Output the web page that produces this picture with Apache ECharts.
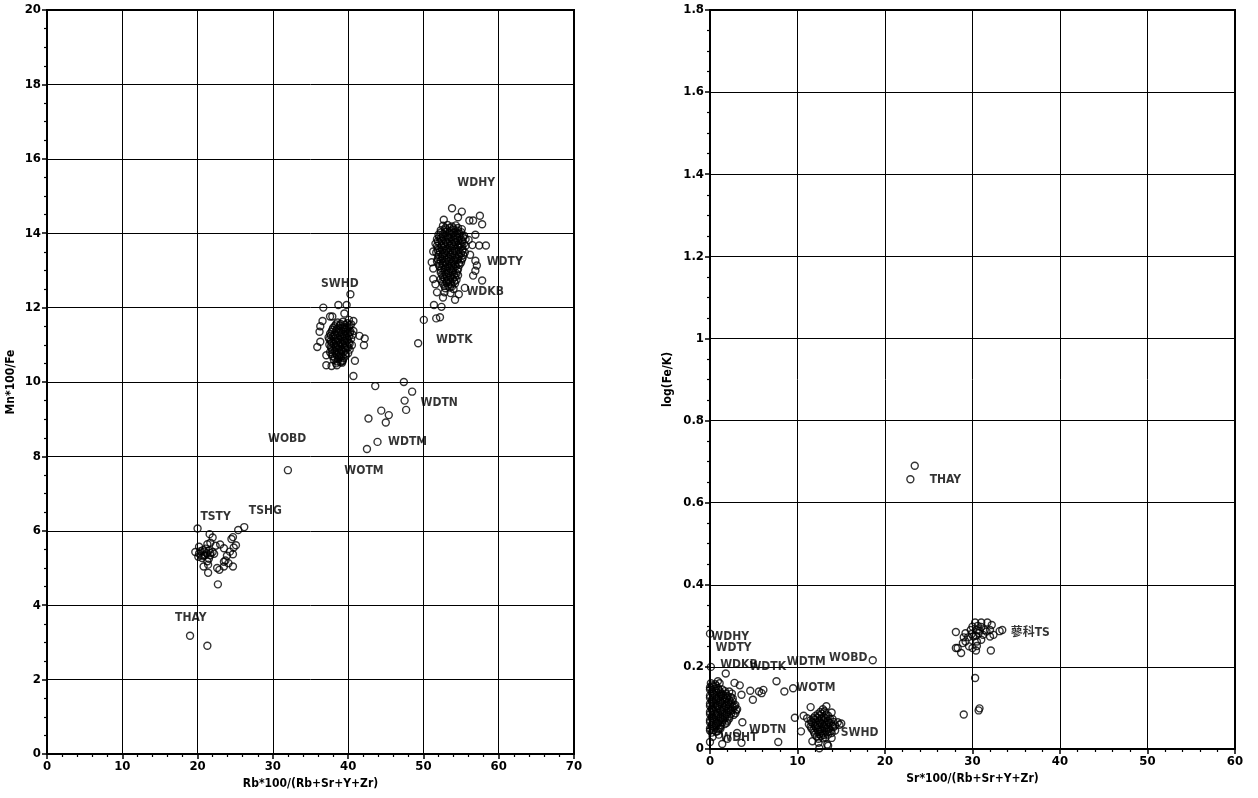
<!DOCTYPE html>
<html>
<head>
<meta charset="utf-8">
<script src="https://cdn.jsdelivr.net/npm/echarts@6/dist/echarts.min.js"></script>
<style>
html,body{margin:0;padding:0;background:#fff;}
#c{width:1258px;height:798px;}
</style>
</head>
<body>
<div id="c"></div>
<script>
// ---------- LEFT CHART: Rb*100/(Rb+Sr+Y+Zr) vs Mn*100/Fe ----------
const leftXTitle = 'Rb*100/(Rb+Sr+Y+Zr)';
const leftYTitle = 'Mn*100/Fe';
const L_THAY = [[19.0,3.18],[21.3,2.91]];
const L_TS = [[20.0,6.06],[26.2,6.10],[25.4,6.02],[24.7,5.83],[24.5,5.78],[21.6,5.91],[22.0,5.82],[21.7,5.68],
 [21.3,5.64],[23.0,5.63],[22.4,5.60],[23.5,5.53],[25.1,5.61],[24.8,5.55],[24.3,5.44],[24.7,5.37],[23.9,5.33],
 [23.7,5.20],[23.5,5.17],[24.1,5.13],[24.7,5.04],[23.5,5.04],[22.6,5.00],[22.9,4.95],[22.7,4.56],[21.4,4.87],
 [21.4,5.09],[20.8,5.04],[19.7,5.43],[20.2,5.57],[20.7,5.48],[20.5,5.34],[20.1,5.30],[21.0,5.34],[21.7,5.40],
 [22.0,5.43],[21.5,5.25],[21.3,5.18],[20.9,5.44],[20.2,5.39],[20.6,5.27],[21.1,5.52],[21.7,5.34],[20.4,5.45],
 [21.2,5.40],[20.8,5.33],[21.5,5.47],[22.2,5.38]];
const L_WOBD = [[32.0,7.63]];
const L_WDMID = [[42.5,8.20],[43.9,8.39],[42.7,9.02],[45.0,8.91],[44.4,9.23],[45.4,9.11],[47.5,9.50],[47.7,9.25],
 [43.6,9.89],[47.4,10.00],[48.5,9.74],[49.3,11.04],[50.05,11.67],[51.4,12.07],[52.4,12.02],[51.7,11.71],[52.2,11.74]];
const L_SWHD = [[40.3,12.36],[36.7,12.00],[38.7,12.07],[39.8,12.07],[37.6,11.76],[37.9,11.76],[39.5,11.84],
 [36.6,11.64],[36.3,11.50],[36.2,11.35],[36.3,11.08],[35.9,10.94],[37.1,10.72],[37.1,10.45],[37.8,10.43],
 [38.5,10.45],[39.2,10.52],[40.7,10.16],[40.9,10.57],[42.2,11.17],[42.1,10.99],[41.5,11.24],[40.7,11.37],
 [40.7,11.64],[40.1,11.67],
 [38.6,11.60],[39.3,11.62],[39.9,11.58],[40.4,11.55],
 [38.2,11.50],[38.9,11.52],[39.5,11.48],[40.1,11.46],
 [37.9,11.40],[38.5,11.42],[39.1,11.38],[39.7,11.41],[40.3,11.36],
 [37.6,11.30],[38.2,11.28],[38.8,11.32],[39.4,11.29],[40.0,11.31],[40.6,11.27],
 [37.4,11.20],[38.0,11.22],[38.6,11.18],[39.2,11.21],[39.8,11.19],[40.4,11.16],
 [37.7,11.10],[38.3,11.12],[38.9,11.08],[39.5,11.11],[40.1,11.07],
 [37.5,11.00],[38.1,11.02],[38.7,10.98],[39.3,11.01],[39.9,10.97],[40.5,10.99],
 [37.8,10.90],[38.4,10.92],[39.0,10.88],[39.6,10.91],[40.2,10.87],
 [37.6,10.80],[38.2,10.82],[38.8,10.78],[39.4,10.81],[40.0,10.77],
 [37.9,10.70],[38.5,10.72],[39.1,10.68],[39.7,10.71],
 [38.1,10.60],[38.7,10.62],[39.3,10.58],
 [38.4,10.50],[39.0,10.53],
 [38.4,11.55],[39.0,11.56],[39.6,11.54],[40.2,11.53],
 [38.0,11.45],[38.7,11.46],[39.3,11.44],[39.9,11.45],
 [37.8,11.35],[38.4,11.36],[39.0,11.34],[39.6,11.35],[40.2,11.33],
 [37.7,11.25],[38.3,11.26],[38.9,11.24],[39.5,11.25],[40.1,11.23],
 [37.5,11.15],[38.1,11.16],[38.7,11.14],[39.3,11.15],[39.9,11.13],
 [37.8,11.05],[38.4,11.06],[39.0,11.04],[39.6,11.05],[40.2,11.03],
 [37.7,10.95],[38.3,10.96],[38.9,10.94],[39.5,10.95],[40.0,10.93],
 [37.9,10.85],[38.5,10.86],[39.1,10.84],[39.7,10.85],
 [37.8,10.75],[38.4,10.76],[39.0,10.74],[39.6,10.75],
 [38.2,10.65],[38.8,10.66],[39.4,10.64],
 [38.6,10.55],[39.2,10.56]];
const L_WDHY = [[53.8,14.67],[55.1,14.58],[57.5,14.47],[57.8,14.24],[56.6,14.34],[56.1,14.34],[52.7,14.36],
 [54.6,14.43],[56.9,13.96],[58.3,13.67],[57.4,13.67],[56.5,13.68],[51.3,13.51],[51.1,13.22],[51.3,13.05],
 [56.9,13.26],[57.1,13.13],[56.9,12.99],[56.6,12.86],[57.8,12.73],[55.5,12.53],[51.3,12.77],[51.6,12.63],
 [51.8,12.41],[52.8,12.41],[53.6,12.39],[54.2,12.21],[54.7,12.36],[52.6,12.27],[56.2,13.42],[56.0,13.82],
 [52.6,14.20],[53.2,14.22],[53.8,14.18],[54.3,14.21],
 [52.3,14.08],[52.9,14.10],[53.5,14.06],[54.0,14.09],[54.6,14.07],[55.1,14.11],
 [52.0,13.96],[52.6,13.98],[53.2,13.94],[53.7,13.97],[54.3,13.95],[54.8,13.99],[55.4,13.93],
 [51.8,13.84],[52.3,13.86],[52.9,13.82],[53.4,13.85],[54.0,13.83],[54.5,13.87],[55.1,13.81],[55.6,13.84],
 [51.6,13.72],[52.1,13.74],[52.7,13.70],[53.2,13.73],[53.8,13.71],[54.3,13.75],[54.9,13.69],[55.4,13.72],
 [51.9,13.60],[52.4,13.62],[53.0,13.58],[53.5,13.61],[54.1,13.59],[54.6,13.63],[55.2,13.57],
 [51.7,13.48],[52.2,13.50],[52.8,13.46],[53.3,13.49],[53.9,13.47],[54.4,13.51],[55.0,13.45],[55.5,13.48],
 [52.0,13.36],[52.5,13.38],[53.1,13.34],[53.6,13.37],[54.2,13.35],[54.7,13.39],[55.2,13.33],
 [51.8,13.24],[52.3,13.26],[52.9,13.22],[53.4,13.25],[54.0,13.23],[54.5,13.27],[55.0,13.21],
 [52.1,13.12],[52.6,13.14],[53.2,13.10],[53.7,13.13],[54.3,13.11],[54.8,13.15],
 [52.3,13.00],[52.8,13.02],[53.4,12.98],[53.9,13.01],[54.5,12.99],
 [52.5,12.88],[53.0,12.90],[53.6,12.86],[54.1,12.89],[54.6,12.87],
 [52.3,12.76],[52.8,12.78],[53.3,12.74],[53.9,12.77],[54.4,12.75],
 [52.6,12.64],[53.1,12.66],[53.7,12.62],[54.2,12.65],
 [52.9,12.52],[53.5,12.54],[54.0,12.50],
 [52.9,14.14],[53.5,14.15],[54.0,14.13],[54.6,14.14],
 [52.3,14.02],[52.9,14.03],[53.4,14.01],[54.0,14.02],[54.5,14.00],[55.0,14.03],
 [52.1,13.90],[52.6,13.91],[53.2,13.89],[53.7,13.90],[54.2,13.88],[54.8,13.91],[55.3,13.89],
 [51.9,13.78],[52.4,13.79],[53.0,13.77],[53.5,13.78],[54.1,13.76],[54.6,13.79],[55.2,13.77],
 [51.8,13.66],[52.4,13.67],[52.9,13.65],[53.5,13.66],[54.0,13.64],[54.6,13.67],[55.1,13.65],[55.6,13.66],
 [51.9,13.54],[52.5,13.55],[53.0,13.53],[53.6,13.54],[54.1,13.52],[54.7,13.55],[55.2,13.53],
 [52.0,13.42],[52.6,13.43],[53.1,13.41],[53.6,13.42],[54.2,13.40],[54.7,13.43],[55.3,13.41],
 [51.9,13.30],[52.5,13.31],[53.0,13.29],[53.6,13.30],[54.1,13.28],[54.6,13.31],[55.1,13.29],
 [52.1,13.18],[52.6,13.19],[53.1,13.17],[53.7,13.18],[54.2,13.16],[54.7,13.19],
 [52.4,13.06],[52.9,13.07],[53.5,13.05],[54.0,13.06],[54.6,13.04],
 [52.3,12.94],[52.8,12.95],[53.3,12.93],[53.9,12.94],[54.4,12.92],
 [52.6,12.82],[53.1,12.83],[53.6,12.81],[54.2,12.82],
 [52.5,12.70],[53.1,12.71],[53.6,12.69],[54.1,12.70],
 [52.8,12.58],[53.3,12.59],[53.8,12.57]];
const L_LABELS = [[57.0,15.35,'WDHY'],[60.8,13.23,'WDTY'],[58.2,12.41,'WDKB'],[54.1,11.13,'WDTK'],
 [38.9,12.65,'SWHD'],[52.1,9.45,'WDTN'],[47.9,8.40,'WDTM'],[42.1,7.61,'WOTM'],[31.9,8.48,'WOBD'],
 [29.0,6.53,'TSHG'],[22.4,6.38,'TSTY'],[19.1,3.66,'THAY']];

// ---------- RIGHT CHART: Sr*100/(Rb+Sr+Y+Zr) vs log(Fe/K) ----------
const rightXTitle = 'Sr*100/(Rb+Sr+Y+Zr)';
const rightYTitle = 'log(Fe/K)';
const R_THAY = [[23.4,0.690],[22.9,0.657]];
const R_TS = [[28.1,0.285],[28.3,0.246],[28.1,0.246],[28.7,0.234],[29.0,0.272],[29.2,0.282],[28.9,0.258],
 [29.6,0.250],[29.2,0.262],[30.0,0.246],[30.4,0.240],[30.5,0.251],[30.3,0.308],[31.0,0.308],[31.7,0.308],
 [32.2,0.302],[32.0,0.290],[31.6,0.286],[32.0,0.274],[32.4,0.278],[33.1,0.287],[33.4,0.290],[32.1,0.240],
 [30.0,0.298],[30.5,0.290],[30.7,0.282],[29.8,0.290],[30.1,0.274],[31.0,0.266],[30.5,0.262],[31.2,0.278],
 [31.4,0.290],[29.5,0.272],[31.0,0.297],[30.4,0.276],[30.8,0.288],[29.9,0.280],[30.6,0.300],
 [30.3,0.173],[29.0,0.084],[30.7,0.094],[30.8,0.099]];
const R_WOBD = [[18.6,0.216]];
const R_WD = [[0.0,0.281],[0.1,0.200],[1.8,0.184],[0.9,0.165],[1.1,0.160],[2.8,0.161],[3.4,0.155],[3.6,0.132],
 [4.6,0.142],[4.9,0.120],[5.6,0.140],[5.9,0.136],[6.1,0.144],[7.6,0.165],[8.5,0.140],[9.5,0.148],[9.7,0.076],
 [3.7,0.065],[3.1,0.039],[3.6,0.015],[1.4,0.012],[7.8,0.017],[0.0,0.017],[2.5,0.135],[2.2,0.140],[1.3,0.130],
 [0.3,0.030],[1.0,0.035],[2.0,0.025],[1.2,0.050],
 [0.1,0.160],[0.6,0.158],
 [0.0,0.150],[0.4,0.152],[0.9,0.148],
 [0.2,0.140],[0.7,0.142],[1.2,0.138],[1.7,0.141],
 [0.0,0.130],[0.5,0.132],[1.0,0.128],[1.5,0.131],[2.0,0.129],
 [0.2,0.120],[0.7,0.122],[1.2,0.118],[1.7,0.121],[2.2,0.119],[2.6,0.123],
 [0.0,0.110],[0.4,0.112],[0.9,0.108],[1.4,0.111],[1.9,0.109],[2.4,0.113],[2.9,0.107],
 [0.2,0.100],[0.6,0.102],[1.1,0.098],[1.6,0.101],[2.1,0.099],[2.6,0.103],[3.1,0.097],
 [0.0,0.090],[0.4,0.092],[0.9,0.088],[1.4,0.091],[1.9,0.089],[2.4,0.093],[2.9,0.087],
 [0.2,0.080],[0.7,0.082],[1.2,0.078],[1.7,0.081],[2.2,0.079],[2.7,0.083],
 [0.0,0.070],[0.5,0.072],[1.0,0.068],[1.5,0.071],[2.0,0.069],
 [0.2,0.060],[0.7,0.062],[1.2,0.058],[1.7,0.061],
 [0.0,0.050],[0.5,0.052],[1.0,0.048],
 [0.2,0.040],[0.7,0.042],
 [0.2,0.155],[0.7,0.154],
 [0.0,0.145],[0.5,0.146],[1.0,0.144],[1.4,0.145],
 [0.3,0.135],[0.8,0.136],[1.3,0.134],[1.8,0.135],
 [0.0,0.125],[0.5,0.126],[1.0,0.124],[1.5,0.125],[1.9,0.124],[2.4,0.126],
 [0.2,0.115],[0.7,0.116],[1.2,0.114],[1.7,0.115],[2.1,0.114],[2.6,0.116],
 [0.0,0.105],[0.4,0.106],[0.9,0.104],[1.4,0.105],[1.8,0.104],[2.3,0.106],[2.8,0.104],
 [0.2,0.095],[0.7,0.096],[1.2,0.094],[1.6,0.095],[2.1,0.094],[2.6,0.096],[3.0,0.094],
 [0.0,0.085],[0.5,0.086],[0.9,0.084],[1.4,0.085],[1.9,0.084],[2.4,0.086],
 [0.2,0.075],[0.7,0.076],[1.2,0.074],[1.7,0.075],[2.2,0.074],
 [0.0,0.065],[0.4,0.066],[0.9,0.064],[1.4,0.065],[1.9,0.064],
 [0.2,0.055],[0.7,0.056],[1.2,0.054],
 [0.0,0.045],[0.4,0.046],[0.9,0.044]];
const R_SWHD = [[11.5,0.102],[13.3,0.104],[10.7,0.081],[10.4,0.043],[11.7,0.019],[12.4,0.015],[13.4,0.011],
 [13.9,0.027],[14.3,0.045],[14.8,0.059],[15.0,0.062],[14.6,0.065],[13.9,0.089],[13.5,0.008],[12.5,0.002],
 [11.1,0.075],[12.9,0.097],
 [12.6,0.090],[13.1,0.092],
 [12.0,0.080],[12.5,0.082],[13.0,0.078],[13.5,0.081],
 [11.5,0.070],[12.0,0.072],[12.5,0.068],[13.0,0.071],[13.5,0.069],[14.0,0.073],
 [11.3,0.060],[11.8,0.062],[12.3,0.058],[12.8,0.061],[13.3,0.059],[13.8,0.063],[14.3,0.057],
 [11.6,0.050],[12.1,0.052],[12.6,0.048],[13.1,0.051],[13.6,0.049],[14.1,0.053],
 [11.9,0.040],[12.4,0.042],[12.9,0.038],[13.4,0.041],[13.9,0.039],
 [12.2,0.030],[12.7,0.032],[13.2,0.028],
 [12.3,0.085],[12.8,0.086],[13.3,0.084],
 [11.8,0.075],[12.3,0.076],[12.7,0.074],[13.2,0.075],[13.7,0.074],
 [11.6,0.065],[12.1,0.066],[12.6,0.064],[13.1,0.065],[13.6,0.064],[14.1,0.066],
 [11.5,0.055],[12.0,0.056],[12.5,0.054],[13.0,0.055],[13.5,0.054],[14.0,0.056],
 [11.8,0.045],[12.3,0.046],[12.8,0.044],[13.3,0.045],[13.8,0.044],
 [12.0,0.035],[12.5,0.036],[13.0,0.034],[13.5,0.035],
 [12.4,0.025],[12.9,0.026]];
const R_LABELS = [[26.9,0.656,'THAY'],[36.6,0.284,'蓼科TS'],[2.3,0.272,'WDHY'],[2.7,0.246,'WDTY'],
 [3.3,0.205,'WDKB'],[6.6,0.201,'WDTK'],[11.0,0.211,'WDTM'],[15.8,0.223,'WOBD'],[12.1,0.148,'WOTM'],
 [6.6,0.047,'WDTN'],[3.3,0.026,'WDHT'],[17.1,0.040,'SWHD']];

const FONT = '"DejaVu Sans","Noto Sans CJK JP",sans-serif';
const WEIGHT = 'bold condensed';

function pts(data, xi, yi){
  return {type:'scatter', xAxisIndex:xi, yAxisIndex:yi, data:data, symbol:'circle', symbolSize:7,
    itemStyle:{color:'rgba(0,0,0,0)', borderColor:'#000', borderWidth:1.4}, silent:true, large:false};
}
function labels(arr, xi, yi){
  return {type:'scatter', xAxisIndex:xi, yAxisIndex:yi, symbolSize:0, silent:true,
    data: arr.map(a => ({value:[a[0],a[1]], name:a[2]})),
    label:{show:true, position:'inside', formatter:p=>p.name, color:'#000', fontFamily:FONT,
      fontWeight:WEIGHT, fontSize:12}};
}
function xAxis(gi, max, name){
  return {type:'value', gridIndex:gi, min:0, max:max, interval:10, name:name, nameLocation:'middle', nameGap:22,
    nameTextStyle:{color:'#000', fontFamily:FONT, fontWeight:WEIGHT, fontSize:12},
    axisLine:{show:true, onZero:false, lineStyle:{color:'#000', width:2}},
    axisTick:{show:true, length:5, lineStyle:{color:'#000', width:1.5}},
    minorTick:{show:true, splitNumber:5, length:3, lineStyle:{color:'#000', width:1.2}},
    axisLabel:{color:'#000', fontFamily:FONT, fontWeight:WEIGHT, fontSize:13, margin:6},
    splitLine:{show:true, lineStyle:{color:'#000', width:1}}};
}
function yAxis(gi, max, interval, minorSplit, name, gap){
  return {type:'value', gridIndex:gi, min:0, max:max, interval:interval, name:name, nameLocation:'middle', nameGap:gap,
    nameTextStyle:{color:'#000', fontFamily:FONT, fontWeight:WEIGHT, fontSize:12},
    axisLine:{show:true, onZero:false, lineStyle:{color:'#000', width:2}},
    axisTick:{show:true, length:5, lineStyle:{color:'#000', width:1.5}},
    minorTick:{show:true, splitNumber:minorSplit, length:3, lineStyle:{color:'#000', width:1.2}},
    axisLabel:{color:'#000', fontFamily:FONT, fontWeight:WEIGHT, fontSize:13, margin:6,
      formatter: v => String(Math.round(v*10)/10)},
    splitLine:{show:true, lineStyle:{color:'#000', width:1}}};
}

const chart = echarts.init(document.getElementById('c'), null, {renderer:'canvas'});
chart.setOption({
  animation:false,
  backgroundColor:'#fff',
  grid:[
    {left:47, right:684, top:10, bottom:44, show:true, borderColor:'#000', borderWidth:2, backgroundColor:'rgba(0,0,0,0)'},
    {left:710, right:23, top:10, bottom:49, show:true, borderColor:'#000', borderWidth:2, backgroundColor:'rgba(0,0,0,0)'}
  ],
  xAxis:[xAxis(0,70,leftXTitle), xAxis(1,60,rightXTitle)],
  yAxis:[yAxis(0,20,2,4,leftYTitle,30), yAxis(1,1.8,0.2,4,rightYTitle,36)],
  series:[
    pts(L_THAY,0,0), pts(L_TS,0,0), pts(L_WOBD,0,0), pts(L_WDMID,0,0), pts(L_SWHD,0,0), pts(L_WDHY,0,0),
    labels(L_LABELS,0,0),
    pts(R_THAY,1,1), pts(R_TS,1,1), pts(R_WOBD,1,1), pts(R_WD,1,1), pts(R_SWHD,1,1),
    labels(R_LABELS,1,1)
  ]
});
</script>
</body>
</html>
